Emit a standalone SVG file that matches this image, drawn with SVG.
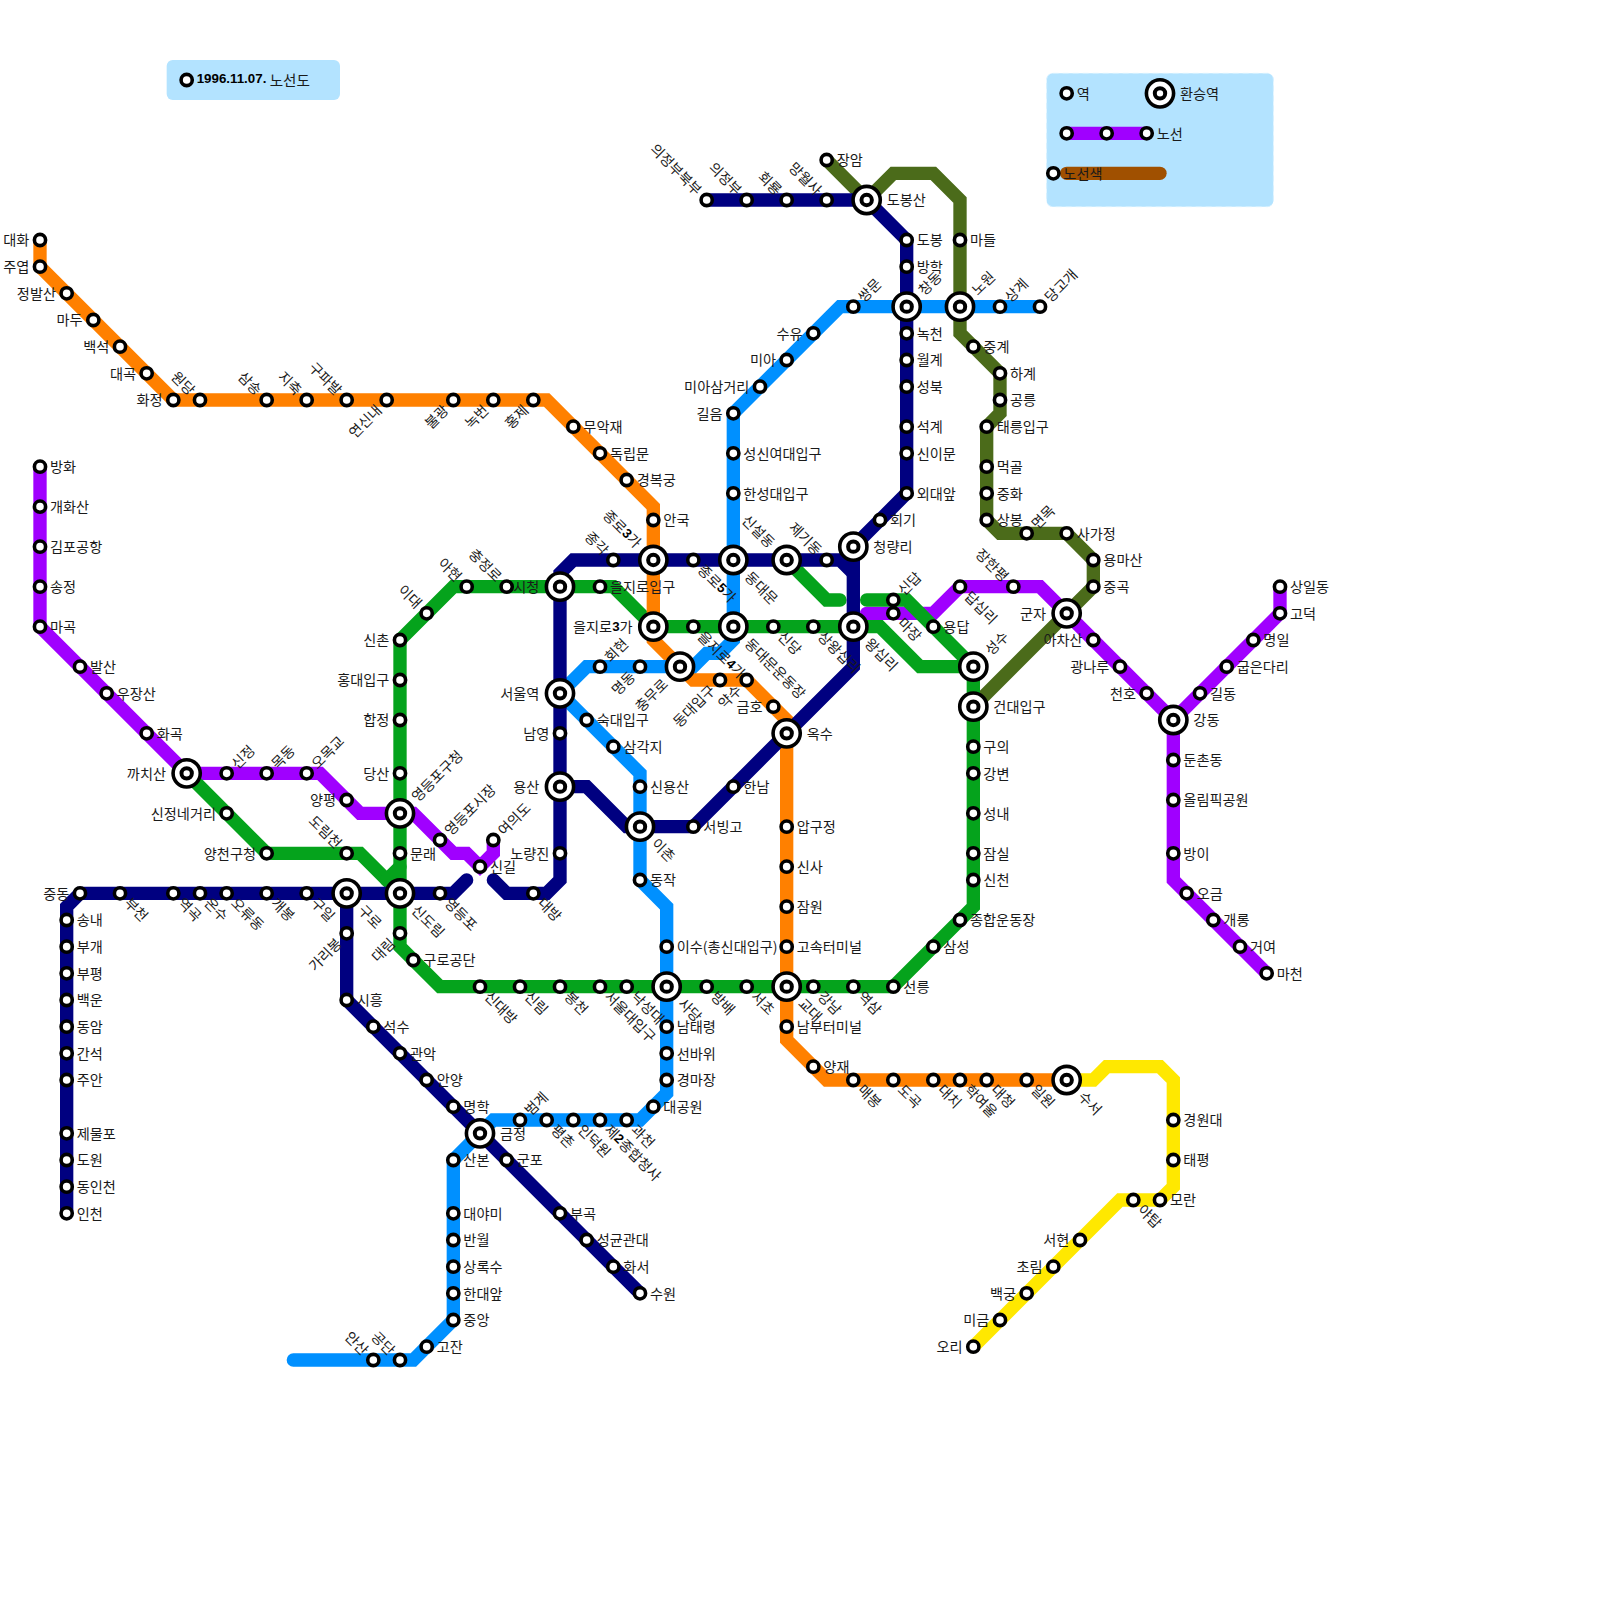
<svg xmlns="http://www.w3.org/2000/svg" width="1600" height="1600" viewBox="0 0 1600 1600">
<style>
text{font-family:"Noto Sans CJK KR","Noto Sans",sans-serif;font-size:14.2px;fill:#1a1a1a;dominant-baseline:central}
.e{text-anchor:end}
.b{font-family:"Liberation Sans",Arial,sans-serif;font-weight:bold;font-size:13.33px;fill:#000}
.ln{fill:none;stroke-width:13.33;stroke-linecap:round;stroke-linejoin:miter;stroke-miterlimit:10}
.purple{stroke:#a000ff}.olive{stroke:#4b6b1a}.green{stroke:#05a31c}.orange{stroke:#ff8000}.yellow{stroke:#ffe800}.blue{stroke:#0090ff}.navy{stroke:#000080}.brown{stroke:#a05000}
.bg{fill:#b3e3ff}
</style>
<defs>
<g id="s"><circle r="5.6" fill="#fff" stroke="#000" stroke-width="3.6"/></g>
<g id="x"><circle r="13.6" fill="#fff" stroke="#000" stroke-width="3.6"/><circle r="5.2" fill="#fff" stroke="#000" stroke-width="4"/></g>
</defs>
<rect class="bg" x="166.67" y="60" width="173.33" height="40" rx="6"/>
<rect class="bg" x="1046.67" y="73.33" width="226.67" height="133.33" rx="6" stroke="#d5f0ff" stroke-width="1" stroke-dasharray="6 4"/>
<g id="connectors">
<path class="ln purple" d="M40 466.67V626.67L186.67 773.33H320L360 813.33H413.33L453.33 853.33H466.67L480 866.67L493.33 853.33V840"/>
<path class="ln purple" d="M866.67 613.33H933.33L960 586.67H1040L1173.33 720L1280 613.33V586.67"/>
<path class="ln purple" d="M1173.33 720V880L1266.67 973.33"/>
<path class="ln olive" d="M826.67 160L866.67 200L893.33 173.33H933.33L960 200V333.33L1000 373.33V413.33L986.67 426.67V520L1000 533.33H1066.67L1093.33 560V586.67L973.33 706.67"/>
<path class="ln green" d="M866.67 600H906.67L973.33 666.67V906.67L893.33 986.67H440L400 946.67V640L453.33 586.67H613.33L653.33 626.67H880L920 666.67H973.33"/>
<path class="ln green" d="M186.67 773.33L266.67 853.33H360L400 893.33"/>
<path class="ln green" d="M400 866.67L386.67 880"/>
<path class="ln green" d="M786.67 560L826.67 600H840"/>
<path class="ln orange" d="M40 240V266.67L173.33 400H546.67L653.33 506.67V640L693.33 680H746.67L786.67 720V1040L826.67 1080H1066.67"/>
<path class="ln yellow" d="M1066.67 1080H1093.33L1106.67 1066.67H1160L1173.33 1080V1186.67L1160 1200H1120L973.33 1346.67"/>
<path class="ln blue" d="M1040 306.67H840L733.33 413.33V640L720 653.33H706.67L693.33 666.67H586.67L560 693.33L640 773.33V880L666.67 906.67V1093.33L640 1120H493.33L453.33 1160V1320L413.33 1360H293.33"/>
<path class="ln navy" d="M706.67 200H866.67L906.67 240V493.33L853.33 546.67V666.67L693.33 826.67H626.67L586.67 786.67H560"/>
<path class="ln navy" d="M853.33 573.33L840 560H573.33L560 573.33V880L546.67 893.33H506.67L493.33 880"/>
<path class="ln navy" d="M466.67 880L453.33 893.33H80L66.67 906.67V1213.33"/>
<path class="ln navy" d="M346.67 893.33V1000L640 1293.33"/>
<path class="ln purple" d="M1066.67 133.33H1146.67"/>
<path class="ln brown" d="M1066.67 173.33H1160"/>
</g>
<g id="legend">
<g id="lg-date" transform="translate(186.67 80)"><use href="#s"/><text x="10" y="-1.5" class="b">1996.11.07.<tspan style="font-family:'Noto Sans CJK KR',sans-serif;font-weight:normal;font-size:14.6px;fill:#1a1a1a"> 노선도</tspan></text></g>
<g id="lg-station" transform="translate(1066.67 93.33)"><use href="#s"/><text x="10" y="-.8">역</text></g>
<g id="lg-transfer" transform="translate(1160 93.33)"><use href="#x"/><text x="20" y="-.8">환승역</text></g>
<g id="lg-a" transform="translate(1066.67 133.33)"><use href="#s"/></g>
<g id="lg-b" transform="translate(1106.67 133.33)"><use href="#s"/></g>
<g id="lg-line" transform="translate(1146.67 133.33)"><use href="#s"/><text x="10" y="-.8">노선</text></g>
<g id="lg-color" transform="translate(1053.33 173.33)"><use href="#s"/><text x="10" y="-.8">노선색</text></g>
</g>
<g id="nodes">
<!-- orange -->
<g id="대화" transform="translate(40 240)"><use href="#s"/><text class="e" x="-10.67" y="-.8">대화</text></g>
<g id="주엽" transform="translate(40 266.67)"><use href="#s"/><text class="e" x="-10.67" y="-.8">주엽</text></g>
<g id="정발산" transform="translate(66.67 293.33)"><use href="#s"/><text class="e" x="-10.67" y="-.8">정발산</text></g>
<g id="마두" transform="translate(93.33 320)"><use href="#s"/><text class="e" x="-10.67" y="-.8">마두</text></g>
<g id="백석" transform="translate(120 346.67)"><use href="#s"/><text class="e" x="-10.67" y="-.8">백석</text></g>
<g id="대곡" transform="translate(146.67 373.33)"><use href="#s"/><text class="e" x="-10.67" y="-.8">대곡</text></g>
<g id="화정" transform="translate(173.33 400)"><use href="#s"/><text class="e" x="-10.67" y="-.8">화정</text></g>
<g id="원당" transform="translate(200 400)"><use href="#s"/><text class="e" x="-10.67" y="-.8" transform="rotate(45)">원당</text></g>
<g id="삼송" transform="translate(266.67 400)"><use href="#s"/><text class="e" x="-10.67" y="-.8" transform="rotate(45)">삼송</text></g>
<g id="지축" transform="translate(306.67 400)"><use href="#s"/><text class="e" x="-10.67" y="-.8" transform="rotate(45)">지축</text></g>
<g id="구파발" transform="translate(346.67 400)"><use href="#s"/><text class="e" x="-10.67" y="-.8" transform="rotate(45)">구파발</text></g>
<g id="연신내" transform="translate(386.67 400)"><use href="#s"/><text class="e" x="-10.67" y="-.8" transform="rotate(-45)">연신내</text></g>
<g id="불광" transform="translate(453.33 400)"><use href="#s"/><text class="e" x="-10.67" y="-.8" transform="rotate(-45)">불광</text></g>
<g id="녹번" transform="translate(493.33 400)"><use href="#s"/><text class="e" x="-10.67" y="-.8" transform="rotate(-45)">녹번</text></g>
<g id="홍제" transform="translate(533.33 400)"><use href="#s"/><text class="e" x="-10.67" y="-.8" transform="rotate(-45)">홍제</text></g>
<g id="무악재" transform="translate(573.33 426.67)"><use href="#s"/><text x="10" y="-.8">무악재</text></g>
<g id="독립문" transform="translate(600 453.33)"><use href="#s"/><text x="10" y="-.8">독립문</text></g>
<g id="경복궁" transform="translate(626.67 480)"><use href="#s"/><text x="10" y="-.8">경복궁</text></g>
<g id="안국" transform="translate(653.33 520)"><use href="#s"/><text x="10" y="-.8">안국</text></g>
<g id="종로3가" transform="translate(653.33 560)"><use href="#x"/><text class="e" x="-20.67" y="-.8" transform="rotate(45)">종로<tspan class="b">3</tspan>가</text></g>
<g id="을지로3가" transform="translate(653.33 626.67)"><use href="#x"/><text class="e" x="-20.67" y="-.8">을지로<tspan class="b">3</tspan>가</text></g>
<g id="충무로" transform="translate(680 666.67)"><use href="#x"/><text class="e" x="-20.67" y="-.8" transform="rotate(-45)">충무로</text></g>
<g id="동대입구" transform="translate(720 680)"><use href="#s"/><text class="e" x="-10.67" y="-.8" transform="rotate(-45)">동대입구</text></g>
<g id="약수" transform="translate(746.67 680)"><use href="#s"/><text class="e" x="-10.67" y="-.8" transform="rotate(-45)">약수</text></g>
<g id="금호" transform="translate(773.33 706.67)"><use href="#s"/><text class="e" x="-10.67" y="-.8">금호</text></g>
<g id="옥수" transform="translate(786.67 733.33)"><use href="#x"/><text x="20" y="-.8">옥수</text></g>
<g id="압구정" transform="translate(786.67 826.67)"><use href="#s"/><text x="10" y="-.8">압구정</text></g>
<g id="신사" transform="translate(786.67 866.67)"><use href="#s"/><text x="10" y="-.8">신사</text></g>
<g id="잠원" transform="translate(786.67 906.67)"><use href="#s"/><text x="10" y="-.8">잠원</text></g>
<g id="고속터미널" transform="translate(786.67 946.67)"><use href="#s"/><text x="10" y="-.8">고속터미널</text></g>
<g id="교대" transform="translate(786.67 986.67)"><use href="#x"/><text x="20" y="-.8" transform="rotate(45)">교대</text></g>
<g id="남부터미널" transform="translate(786.67 1026.67)"><use href="#s"/><text x="10" y="-.8">남부터미널</text></g>
<g id="양재" transform="translate(813.33 1066.67)"><use href="#s"/><text x="10" y="-.8">양재</text></g>
<g id="매봉" transform="translate(853.33 1080)"><use href="#s"/><text x="10" y="-.8" transform="rotate(45)">매봉</text></g>
<g id="도곡" transform="translate(893.33 1080)"><use href="#s"/><text x="10" y="-.8" transform="rotate(45)">도곡</text></g>
<g id="대치" transform="translate(933.33 1080)"><use href="#s"/><text x="10" y="-.8" transform="rotate(45)">대치</text></g>
<g id="학여울" transform="translate(960 1080)"><use href="#s"/><text x="10" y="-.8" transform="rotate(45)">학여울</text></g>
<g id="대청" transform="translate(986.67 1080)"><use href="#s"/><text x="10" y="-.8" transform="rotate(45)">대청</text></g>
<g id="일원" transform="translate(1026.67 1080)"><use href="#s"/><text x="10" y="-.8" transform="rotate(45)">일원</text></g>
<g id="수서" transform="translate(1066.67 1080)"><use href="#x"/><text x="20" y="-.8" transform="rotate(45)">수서</text></g>
<!-- yellow -->
<g id="경원대" transform="translate(1173.33 1120)"><use href="#s"/><text x="10" y="-.8">경원대</text></g>
<g id="태평" transform="translate(1173.33 1160)"><use href="#s"/><text x="10" y="-.8">태평</text></g>
<g id="모란" transform="translate(1160 1200)"><use href="#s"/><text x="10" y="-.8">모란</text></g>
<g id="야탑" transform="translate(1133.33 1200)"><use href="#s"/><text x="10" y="-.8" transform="rotate(45)">야탑</text></g>
<g id="서현" transform="translate(1080 1240)"><use href="#s"/><text class="e" x="-10.67" y="-.8">서현</text></g>
<g id="초림" transform="translate(1053.33 1266.67)"><use href="#s"/><text class="e" x="-10.67" y="-.8">초림</text></g>
<g id="백궁" transform="translate(1026.67 1293.33)"><use href="#s"/><text class="e" x="-10.67" y="-.8">백궁</text></g>
<g id="미금" transform="translate(1000 1320)"><use href="#s"/><text class="e" x="-10.67" y="-.8">미금</text></g>
<g id="오리" transform="translate(973.33 1346.67)"><use href="#s"/><text class="e" x="-10.67" y="-.8">오리</text></g>
<!-- blue -->
<g id="당고개" transform="translate(1040 306.67)"><use href="#s"/><text x="10" y="-.8" transform="rotate(-45)">당고개</text></g>
<g id="상계" transform="translate(1000 306.67)"><use href="#s"/><text x="10" y="-.8" transform="rotate(-45)">상계</text></g>
<g id="노원" transform="translate(960 306.67)"><use href="#x"/><text x="20" y="-.8" transform="rotate(-45)">노원</text></g>
<g id="창동" transform="translate(906.67 306.67)"><use href="#x"/><text x="20" y="-.8" transform="rotate(-45)">창동</text></g>
<g id="쌍문" transform="translate(853.33 306.67)"><use href="#s"/><text x="10" y="-.8" transform="rotate(-45)">쌍문</text></g>
<g id="수유" transform="translate(813.33 333.33)"><use href="#s"/><text class="e" x="-10.67" y="-.8">수유</text></g>
<g id="미아" transform="translate(786.67 360)"><use href="#s"/><text class="e" x="-10.67" y="-.8">미아</text></g>
<g id="미아삼거리" transform="translate(760 386.67)"><use href="#s"/><text class="e" x="-10.67" y="-.8">미아삼거리</text></g>
<g id="길음" transform="translate(733.33 413.33)"><use href="#s"/><text class="e" x="-10.67" y="-.8">길음</text></g>
<g id="성신여대입구" transform="translate(733.33 453.33)"><use href="#s"/><text x="10" y="-.8">성신여대입구</text></g>
<g id="한성대입구" transform="translate(733.33 493.33)"><use href="#s"/><text x="10" y="-.8">한성대입구</text></g>
<g id="동대문" transform="translate(733.33 560)"><use href="#x"/><text x="20" y="-.8" transform="rotate(45)">동대문</text></g>
<g id="동대문운동장" transform="translate(733.33 626.67)"><use href="#x"/><text x="20" y="-.8" transform="rotate(45)">동대문운동장</text></g>
<g id="명동" transform="translate(640 666.67)"><use href="#s"/><text class="e" x="-10.67" y="-.8" transform="rotate(-45)">명동</text></g>
<g id="회현" transform="translate(600 666.67)"><use href="#s"/><text x="10" y="-.8" transform="rotate(-45)">회현</text></g>
<g id="서울역" transform="translate(560 693.33)"><use href="#x"/><text class="e" x="-20.67" y="-.8">서울역</text></g>
<g id="숙대입구" transform="translate(586.67 720)"><use href="#s"/><text x="10" y="-.8">숙대입구</text></g>
<g id="삼각지" transform="translate(613.33 746.67)"><use href="#s"/><text x="10" y="-.8">삼각지</text></g>
<g id="신용산" transform="translate(640 786.67)"><use href="#s"/><text x="10" y="-.8">신용산</text></g>
<g id="이촌" transform="translate(640 826.67)"><use href="#x"/><text x="20" y="-.8" transform="rotate(45)">이촌</text></g>
<g id="동작" transform="translate(640 880)"><use href="#s"/><text x="10" y="-.8">동작</text></g>
<g id="이수" transform="translate(666.67 946.67)"><use href="#s"/><text x="10" y="-.8">이수(총신대입구)</text></g>
<g id="사당" transform="translate(666.67 986.67)"><use href="#x"/><text x="20" y="-.8" transform="rotate(45)">사당</text></g>
<g id="남태령" transform="translate(666.67 1026.67)"><use href="#s"/><text x="10" y="-.8">남태령</text></g>
<g id="선바위" transform="translate(666.67 1053.33)"><use href="#s"/><text x="10" y="-.8">선바위</text></g>
<g id="경마장" transform="translate(666.67 1080)"><use href="#s"/><text x="10" y="-.8">경마장</text></g>
<g id="대공원" transform="translate(653.33 1106.67)"><use href="#s"/><text x="10" y="-.8">대공원</text></g>
<g id="과천" transform="translate(626.67 1120)"><use href="#s"/><text x="10" y="-.8" transform="rotate(45)">과천</text></g>
<g id="제2종합청사" transform="translate(600 1120)"><use href="#s"/><text x="10" y="-.8" transform="rotate(45)">제<tspan class="b">2</tspan>종합청사</text></g>
<g id="인덕원" transform="translate(573.33 1120)"><use href="#s"/><text x="10" y="-.8" transform="rotate(45)">인덕원</text></g>
<g id="평촌" transform="translate(546.67 1120)"><use href="#s"/><text x="10" y="-.8" transform="rotate(45)">평촌</text></g>
<g id="범계" transform="translate(520 1120)"><use href="#s"/><text x="10" y="-.8" transform="rotate(-45)">범계</text></g>
<g id="금정" transform="translate(480 1133.33)"><use href="#x"/><text x="20" y="-.8">금정</text></g>
<g id="산본" transform="translate(453.33 1160)"><use href="#s"/><text x="10" y="-.8">산본</text></g>
<g id="대야미" transform="translate(453.33 1213.33)"><use href="#s"/><text x="10" y="-.8">대야미</text></g>
<g id="반월" transform="translate(453.33 1240)"><use href="#s"/><text x="10" y="-.8">반월</text></g>
<g id="상록수" transform="translate(453.33 1266.67)"><use href="#s"/><text x="10" y="-.8">상록수</text></g>
<g id="한대앞" transform="translate(453.33 1293.33)"><use href="#s"/><text x="10" y="-.8">한대앞</text></g>
<g id="중앙" transform="translate(453.33 1320)"><use href="#s"/><text x="10" y="-.8">중앙</text></g>
<g id="고잔" transform="translate(426.67 1346.67)"><use href="#s"/><text x="10" y="-.8">고잔</text></g>
<g id="공단" transform="translate(400 1360)"><use href="#s"/><text class="e" x="-10.67" y="-.8" transform="rotate(45)">공단</text></g>
<g id="안산" transform="translate(373.33 1360)"><use href="#s"/><text class="e" x="-10.67" y="-.8" transform="rotate(45)">안산</text></g>
<!-- navy -->
<g id="의정부북부" transform="translate(706.67 200)"><use href="#s"/><text class="e" x="-10.67" y="-.8" transform="rotate(45)">의정부북부</text></g>
<g id="의정부" transform="translate(746.67 200)"><use href="#s"/><text class="e" x="-10.67" y="-.8" transform="rotate(45)">의정부</text></g>
<g id="회룡" transform="translate(786.67 200)"><use href="#s"/><text class="e" x="-10.67" y="-.8" transform="rotate(45)">회룡</text></g>
<g id="망월사" transform="translate(826.67 200)"><use href="#s"/><text class="e" x="-10.67" y="-.8" transform="rotate(45)">망월사</text></g>
<g id="도봉산" transform="translate(866.67 200)"><use href="#x"/><text x="20" y="-.8">도봉산</text></g>
<g id="도봉" transform="translate(906.67 240)"><use href="#s"/><text x="10" y="-.8">도봉</text></g>
<g id="방학" transform="translate(906.67 266.67)"><use href="#s"/><text x="10" y="-.8">방학</text></g>
<g id="녹천" transform="translate(906.67 333.33)"><use href="#s"/><text x="10" y="-.8">녹천</text></g>
<g id="월계" transform="translate(906.67 360)"><use href="#s"/><text x="10" y="-.8">월계</text></g>
<g id="성북" transform="translate(906.67 386.67)"><use href="#s"/><text x="10" y="-.8">성북</text></g>
<g id="석계" transform="translate(906.67 426.67)"><use href="#s"/><text x="10" y="-.8">석계</text></g>
<g id="신이문" transform="translate(906.67 453.33)"><use href="#s"/><text x="10" y="-.8">신이문</text></g>
<g id="외대앞" transform="translate(906.67 493.33)"><use href="#s"/><text x="10" y="-.8">외대앞</text></g>
<g id="회기" transform="translate(880 520)"><use href="#s"/><text x="10" y="-.8">회기</text></g>
<g id="청량리" transform="translate(853.33 546.67)"><use href="#x"/><text x="20" y="-.8">청량리</text></g>
<g id="제기동" transform="translate(826.67 560)"><use href="#s"/><text class="e" x="-10.67" y="-.8" transform="rotate(45)">제기동</text></g>
<g id="신설동" transform="translate(786.67 560)"><use href="#x"/><text class="e" x="-20.67" y="-.8" transform="rotate(45)">신설동</text></g>
<g id="종로5가" transform="translate(693.33 560)"><use href="#s"/><text x="10" y="-.8" transform="rotate(45)">종로<tspan class="b">5</tspan>가</text></g>
<g id="종각" transform="translate(613.33 560)"><use href="#s"/><text class="e" x="-10.67" y="-.8" transform="rotate(45)">종각</text></g>
<g id="시청" transform="translate(560 586.67)"><use href="#x"/><text class="e" x="-20.67" y="-.8">시청</text></g>
<g id="남영" transform="translate(560 733.33)"><use href="#s"/><text class="e" x="-10.67" y="-.8">남영</text></g>
<g id="용산" transform="translate(560 786.67)"><use href="#x"/><text class="e" x="-20.67" y="-.8">용산</text></g>
<g id="노량진" transform="translate(560 853.33)"><use href="#s"/><text class="e" x="-10.67" y="-.8">노량진</text></g>
<g id="대방" transform="translate(533.33 893.33)"><use href="#s"/><text x="10" y="-.8" transform="rotate(45)">대방</text></g>
<g id="영등포" transform="translate(440 893.33)"><use href="#s"/><text x="10" y="-.8" transform="rotate(45)">영등포</text></g>
<g id="신도림" transform="translate(400 893.33)"><use href="#x"/><text x="20" y="-.8" transform="rotate(45)">신도림</text></g>
<g id="구로" transform="translate(346.67 893.33)"><use href="#x"/><text x="20" y="-.8" transform="rotate(45)">구로</text></g>
<g id="구일" transform="translate(306.67 893.33)"><use href="#s"/><text x="10" y="-.8" transform="rotate(45)">구일</text></g>
<g id="개봉" transform="translate(266.67 893.33)"><use href="#s"/><text x="10" y="-.8" transform="rotate(45)">개봉</text></g>
<g id="오류동" transform="translate(226.67 893.33)"><use href="#s"/><text x="10" y="-.8" transform="rotate(45)">오류동</text></g>
<g id="온수" transform="translate(200 893.33)"><use href="#s"/><text x="10" y="-.8" transform="rotate(45)">온수</text></g>
<g id="역곡" transform="translate(173.33 893.33)"><use href="#s"/><text x="10" y="-.8" transform="rotate(45)">역곡</text></g>
<g id="부천" transform="translate(120 893.33)"><use href="#s"/><text x="10" y="-.8" transform="rotate(45)">부천</text></g>
<g id="중동" transform="translate(80 893.33)"><use href="#s"/><text class="e" x="-10.67" y="-.8">중동</text></g>
<g id="송내" transform="translate(66.67 920)"><use href="#s"/><text x="10" y="-.8">송내</text></g>
<g id="부개" transform="translate(66.67 946.67)"><use href="#s"/><text x="10" y="-.8">부개</text></g>
<g id="부평" transform="translate(66.67 973.33)"><use href="#s"/><text x="10" y="-.8">부평</text></g>
<g id="백운" transform="translate(66.67 1000)"><use href="#s"/><text x="10" y="-.8">백운</text></g>
<g id="동암" transform="translate(66.67 1026.67)"><use href="#s"/><text x="10" y="-.8">동암</text></g>
<g id="간석" transform="translate(66.67 1053.33)"><use href="#s"/><text x="10" y="-.8">간석</text></g>
<g id="주안" transform="translate(66.67 1080)"><use href="#s"/><text x="10" y="-.8">주안</text></g>
<g id="제물포" transform="translate(66.67 1133.33)"><use href="#s"/><text x="10" y="-.8">제물포</text></g>
<g id="도원" transform="translate(66.67 1160)"><use href="#s"/><text x="10" y="-.8">도원</text></g>
<g id="동인천" transform="translate(66.67 1186.67)"><use href="#s"/><text x="10" y="-.8">동인천</text></g>
<g id="인천" transform="translate(66.67 1213.33)"><use href="#s"/><text x="10" y="-.8">인천</text></g>
<g id="가리봉" transform="translate(346.67 933.33)"><use href="#s"/><text class="e" x="-10.67" y="-.8" transform="rotate(-45)">가리봉</text></g>
<g id="시흥" transform="translate(346.67 1000)"><use href="#s"/><text x="10" y="-.8">시흥</text></g>
<g id="석수" transform="translate(373.33 1026.67)"><use href="#s"/><text x="10" y="-.8">석수</text></g>
<g id="관악" transform="translate(400 1053.33)"><use href="#s"/><text x="10" y="-.8">관악</text></g>
<g id="안양" transform="translate(426.67 1080)"><use href="#s"/><text x="10" y="-.8">안양</text></g>
<g id="명학" transform="translate(453.33 1106.67)"><use href="#s"/><text x="10" y="-.8">명학</text></g>
<g id="군포" transform="translate(506.67 1160)"><use href="#s"/><text x="10" y="-.8">군포</text></g>
<g id="부곡" transform="translate(560 1213.33)"><use href="#s"/><text x="10" y="-.8">부곡</text></g>
<g id="성균관대" transform="translate(586.67 1240)"><use href="#s"/><text x="10" y="-.8">성균관대</text></g>
<g id="화서" transform="translate(613.33 1266.67)"><use href="#s"/><text x="10" y="-.8">화서</text></g>
<g id="수원" transform="translate(640 1293.33)"><use href="#s"/><text x="10" y="-.8">수원</text></g>
<g id="서빙고" transform="translate(693.33 826.67)"><use href="#s"/><text x="10" y="-.8">서빙고</text></g>
<g id="한남" transform="translate(733.33 786.67)"><use href="#s"/><text x="10" y="-.8">한남</text></g>
<!-- green -->
<g id="을지로입구" transform="translate(600 586.67)"><use href="#s"/><text x="10" y="-.8">을지로입구</text></g>
<g id="충정로" transform="translate(506.67 586.67)"><use href="#s"/><text class="e" x="-10.67" y="-.8" transform="rotate(45)">충정로</text></g>
<g id="아현" transform="translate(466.67 586.67)"><use href="#s"/><text class="e" x="-10.67" y="-.8" transform="rotate(45)">아현</text></g>
<g id="이대" transform="translate(426.67 613.33)"><use href="#s"/><text class="e" x="-10.67" y="-.8" transform="rotate(45)">이대</text></g>
<g id="신촌" transform="translate(400 640)"><use href="#s"/><text class="e" x="-10.67" y="-.8">신촌</text></g>
<g id="홍대입구" transform="translate(400 680)"><use href="#s"/><text class="e" x="-10.67" y="-.8">홍대입구</text></g>
<g id="합정" transform="translate(400 720)"><use href="#s"/><text class="e" x="-10.67" y="-.8">합정</text></g>
<g id="당산" transform="translate(400 773.33)"><use href="#s"/><text class="e" x="-10.67" y="-.8">당산</text></g>
<g id="영등포구청" transform="translate(400 813.33)"><use href="#x"/><text x="20" y="-.8" transform="rotate(-45)">영등포구청</text></g>
<g id="문래" transform="translate(400 853.33)"><use href="#s"/><text x="10" y="-.8">문래</text></g>
<g id="대림" transform="translate(400 933.33)"><use href="#s"/><text class="e" x="-10.67" y="-.8" transform="rotate(-45)">대림</text></g>
<g id="구로공단" transform="translate(413.33 960)"><use href="#s"/><text x="10" y="-.8">구로공단</text></g>
<g id="신대방" transform="translate(480 986.67)"><use href="#s"/><text x="10" y="-.8" transform="rotate(45)">신대방</text></g>
<g id="신림" transform="translate(520 986.67)"><use href="#s"/><text x="10" y="-.8" transform="rotate(45)">신림</text></g>
<g id="봉천" transform="translate(560 986.67)"><use href="#s"/><text x="10" y="-.8" transform="rotate(45)">봉천</text></g>
<g id="서울대입구" transform="translate(600 986.67)"><use href="#s"/><text x="10" y="-.8" transform="rotate(45)">서울대입구</text></g>
<g id="낙성대" transform="translate(626.67 986.67)"><use href="#s"/><text x="10" y="-.8" transform="rotate(45)">낙성대</text></g>
<g id="방배" transform="translate(706.67 986.67)"><use href="#s"/><text x="10" y="-.8" transform="rotate(45)">방배</text></g>
<g id="서초" transform="translate(746.67 986.67)"><use href="#s"/><text x="10" y="-.8" transform="rotate(45)">서초</text></g>
<g id="강남" transform="translate(813.33 986.67)"><use href="#s"/><text x="10" y="-.8" transform="rotate(45)">강남</text></g>
<g id="역삼" transform="translate(853.33 986.67)"><use href="#s"/><text x="10" y="-.8" transform="rotate(45)">역삼</text></g>
<g id="선릉" transform="translate(893.33 986.67)"><use href="#s"/><text x="10" y="-.8">선릉</text></g>
<g id="삼성" transform="translate(933.33 946.67)"><use href="#s"/><text x="10" y="-.8">삼성</text></g>
<g id="종합운동장" transform="translate(960 920)"><use href="#s"/><text x="10" y="-.8">종합운동장</text></g>
<g id="신천" transform="translate(973.33 880)"><use href="#s"/><text x="10" y="-.8">신천</text></g>
<g id="잠실" transform="translate(973.33 853.33)"><use href="#s"/><text x="10" y="-.8">잠실</text></g>
<g id="성내" transform="translate(973.33 813.33)"><use href="#s"/><text x="10" y="-.8">성내</text></g>
<g id="강변" transform="translate(973.33 773.33)"><use href="#s"/><text x="10" y="-.8">강변</text></g>
<g id="구의" transform="translate(973.33 746.67)"><use href="#s"/><text x="10" y="-.8">구의</text></g>
<g id="건대입구" transform="translate(973.33 706.67)"><use href="#x"/><text x="20" y="-.8">건대입구</text></g>
<g id="성수" transform="translate(973.33 666.67)"><use href="#x"/><text x="20" y="-.8" transform="rotate(-45)">성수</text></g>
<g id="용답" transform="translate(933.33 626.67)"><use href="#s"/><text x="10" y="-.8">용답</text></g>
<g id="신답" transform="translate(893.33 600)"><use href="#s"/><text x="10" y="-.8" transform="rotate(-45)">신답</text></g>
<g id="마장" transform="translate(893.33 613.33)"><use href="#s"/><text x="10" y="-.8" transform="rotate(45)">마장</text></g>
<g id="왕십리" transform="translate(853.33 626.67)"><use href="#x"/><text x="20" y="-.8" transform="rotate(45)">왕십리</text></g>
<g id="상왕십리" transform="translate(813.33 626.67)"><use href="#s"/><text x="10" y="-.8" transform="rotate(45)">상왕십리</text></g>
<g id="신당" transform="translate(773.33 626.67)"><use href="#s"/><text x="10" y="-.8" transform="rotate(45)">신당</text></g>
<g id="을지로4가" transform="translate(693.33 626.67)"><use href="#s"/><text x="10" y="-.8" transform="rotate(45)">을지로<tspan class="b">4</tspan>가</text></g>
<g id="신정네거리" transform="translate(226.67 813.33)"><use href="#s"/><text class="e" x="-10.67" y="-.8">신정네거리</text></g>
<g id="양천구청" transform="translate(266.67 853.33)"><use href="#s"/><text class="e" x="-10.67" y="-.8">양천구청</text></g>
<g id="도림천" transform="translate(346.67 853.33)"><use href="#s"/><text class="e" x="-10.67" y="-.8" transform="rotate(45)">도림천</text></g>
<!-- purple -->
<g id="방화" transform="translate(40 466.67)"><use href="#s"/><text x="10" y="-.8">방화</text></g>
<g id="개화산" transform="translate(40 506.67)"><use href="#s"/><text x="10" y="-.8">개화산</text></g>
<g id="김포공항" transform="translate(40 546.67)"><use href="#s"/><text x="10" y="-.8">김포공항</text></g>
<g id="송정" transform="translate(40 586.67)"><use href="#s"/><text x="10" y="-.8">송정</text></g>
<g id="마곡" transform="translate(40 626.67)"><use href="#s"/><text x="10" y="-.8">마곡</text></g>
<g id="발산" transform="translate(80 666.67)"><use href="#s"/><text x="10" y="-.8">발산</text></g>
<g id="우장산" transform="translate(106.67 693.33)"><use href="#s"/><text x="10" y="-.8">우장산</text></g>
<g id="화곡" transform="translate(146.67 733.33)"><use href="#s"/><text x="10" y="-.8">화곡</text></g>
<g id="까치산" transform="translate(186.67 773.33)"><use href="#x"/><text class="e" x="-20.67" y="-.8">까치산</text></g>
<g id="신정" transform="translate(226.67 773.33)"><use href="#s"/><text x="10" y="-.8" transform="rotate(-45)">신정</text></g>
<g id="목동" transform="translate(266.67 773.33)"><use href="#s"/><text x="10" y="-.8" transform="rotate(-45)">목동</text></g>
<g id="오목교" transform="translate(306.67 773.33)"><use href="#s"/><text x="10" y="-.8" transform="rotate(-45)">오목교</text></g>
<g id="양평" transform="translate(346.67 800)"><use href="#s"/><text class="e" x="-10.67" y="-.8">양평</text></g>
<g id="영등포시장" transform="translate(440 840)"><use href="#s"/><text x="10" y="-.8" transform="rotate(-45)">영등포시장</text></g>
<g id="여의도" transform="translate(493.33 840)"><use href="#s"/><text x="10" y="-.8" transform="rotate(-45)">여의도</text></g>
<g id="신길" transform="translate(480 866.67)"><use href="#s"/><text x="10" y="-.8">신길</text></g>
<g id="답십리" transform="translate(960 586.67)"><use href="#s"/><text x="10" y="-.8" transform="rotate(45)">답십리</text></g>
<g id="장한평" transform="translate(1013.33 586.67)"><use href="#s"/><text class="e" x="-10.67" y="-.8" transform="rotate(45)">장한평</text></g>
<g id="군자" transform="translate(1066.67 613.33)"><use href="#x"/><text class="e" x="-20.67" y="-.8">군자</text></g>
<g id="아차산" transform="translate(1093.33 640)"><use href="#s"/><text class="e" x="-10.67" y="-.8">아차산</text></g>
<g id="광나루" transform="translate(1120 666.67)"><use href="#s"/><text class="e" x="-10.67" y="-.8">광나루</text></g>
<g id="천호" transform="translate(1146.67 693.33)"><use href="#s"/><text class="e" x="-10.67" y="-.8">천호</text></g>
<g id="강동" transform="translate(1173.33 720)"><use href="#x"/><text x="20" y="-.8">강동</text></g>
<g id="길동" transform="translate(1200 693.33)"><use href="#s"/><text x="10" y="-.8">길동</text></g>
<g id="굽은다리" transform="translate(1226.67 666.67)"><use href="#s"/><text x="10" y="-.8">굽은다리</text></g>
<g id="명일" transform="translate(1253.33 640)"><use href="#s"/><text x="10" y="-.8">명일</text></g>
<g id="고덕" transform="translate(1280 613.33)"><use href="#s"/><text x="10" y="-.8">고덕</text></g>
<g id="상일동" transform="translate(1280 586.67)"><use href="#s"/><text x="10" y="-.8">상일동</text></g>
<g id="둔촌동" transform="translate(1173.33 760)"><use href="#s"/><text x="10" y="-.8">둔촌동</text></g>
<g id="올림픽공원" transform="translate(1173.33 800)"><use href="#s"/><text x="10" y="-.8">올림픽공원</text></g>
<g id="방이" transform="translate(1173.33 853.33)"><use href="#s"/><text x="10" y="-.8">방이</text></g>
<g id="오금" transform="translate(1186.67 893.33)"><use href="#s"/><text x="10" y="-.8">오금</text></g>
<g id="개롱" transform="translate(1213.33 920)"><use href="#s"/><text x="10" y="-.8">개롱</text></g>
<g id="거여" transform="translate(1240 946.67)"><use href="#s"/><text x="10" y="-.8">거여</text></g>
<g id="마천" transform="translate(1266.67 973.33)"><use href="#s"/><text x="10" y="-.8">마천</text></g>
<!-- olive -->
<g id="장암" transform="translate(826.67 160)"><use href="#s"/><text x="10" y="-.8">장암</text></g>
<g id="마들" transform="translate(960 240)"><use href="#s"/><text x="10" y="-.8">마들</text></g>
<g id="중계" transform="translate(973.33 346.67)"><use href="#s"/><text x="10" y="-.8">중계</text></g>
<g id="하계" transform="translate(1000 373.33)"><use href="#s"/><text x="10" y="-.8">하계</text></g>
<g id="공릉" transform="translate(1000 400)"><use href="#s"/><text x="10" y="-.8">공릉</text></g>
<g id="태릉입구" transform="translate(986.67 426.67)"><use href="#s"/><text x="10" y="-.8">태릉입구</text></g>
<g id="먹골" transform="translate(986.67 466.67)"><use href="#s"/><text x="10" y="-.8">먹골</text></g>
<g id="중화" transform="translate(986.67 493.33)"><use href="#s"/><text x="10" y="-.8">중화</text></g>
<g id="상봉" transform="translate(986.67 520)"><use href="#s"/><text x="10" y="-.8">상봉</text></g>
<g id="면목" transform="translate(1026.67 533.33)"><use href="#s"/><text x="10" y="-.8" transform="rotate(-45)">면목</text></g>
<g id="사가정" transform="translate(1066.67 533.33)"><use href="#s"/><text x="10" y="-.8">사가정</text></g>
<g id="용마산" transform="translate(1093.33 560)"><use href="#s"/><text x="10" y="-.8">용마산</text></g>
<g id="중곡" transform="translate(1093.33 586.67)"><use href="#s"/><text x="10" y="-.8">중곡</text></g>
</g>
</svg>
